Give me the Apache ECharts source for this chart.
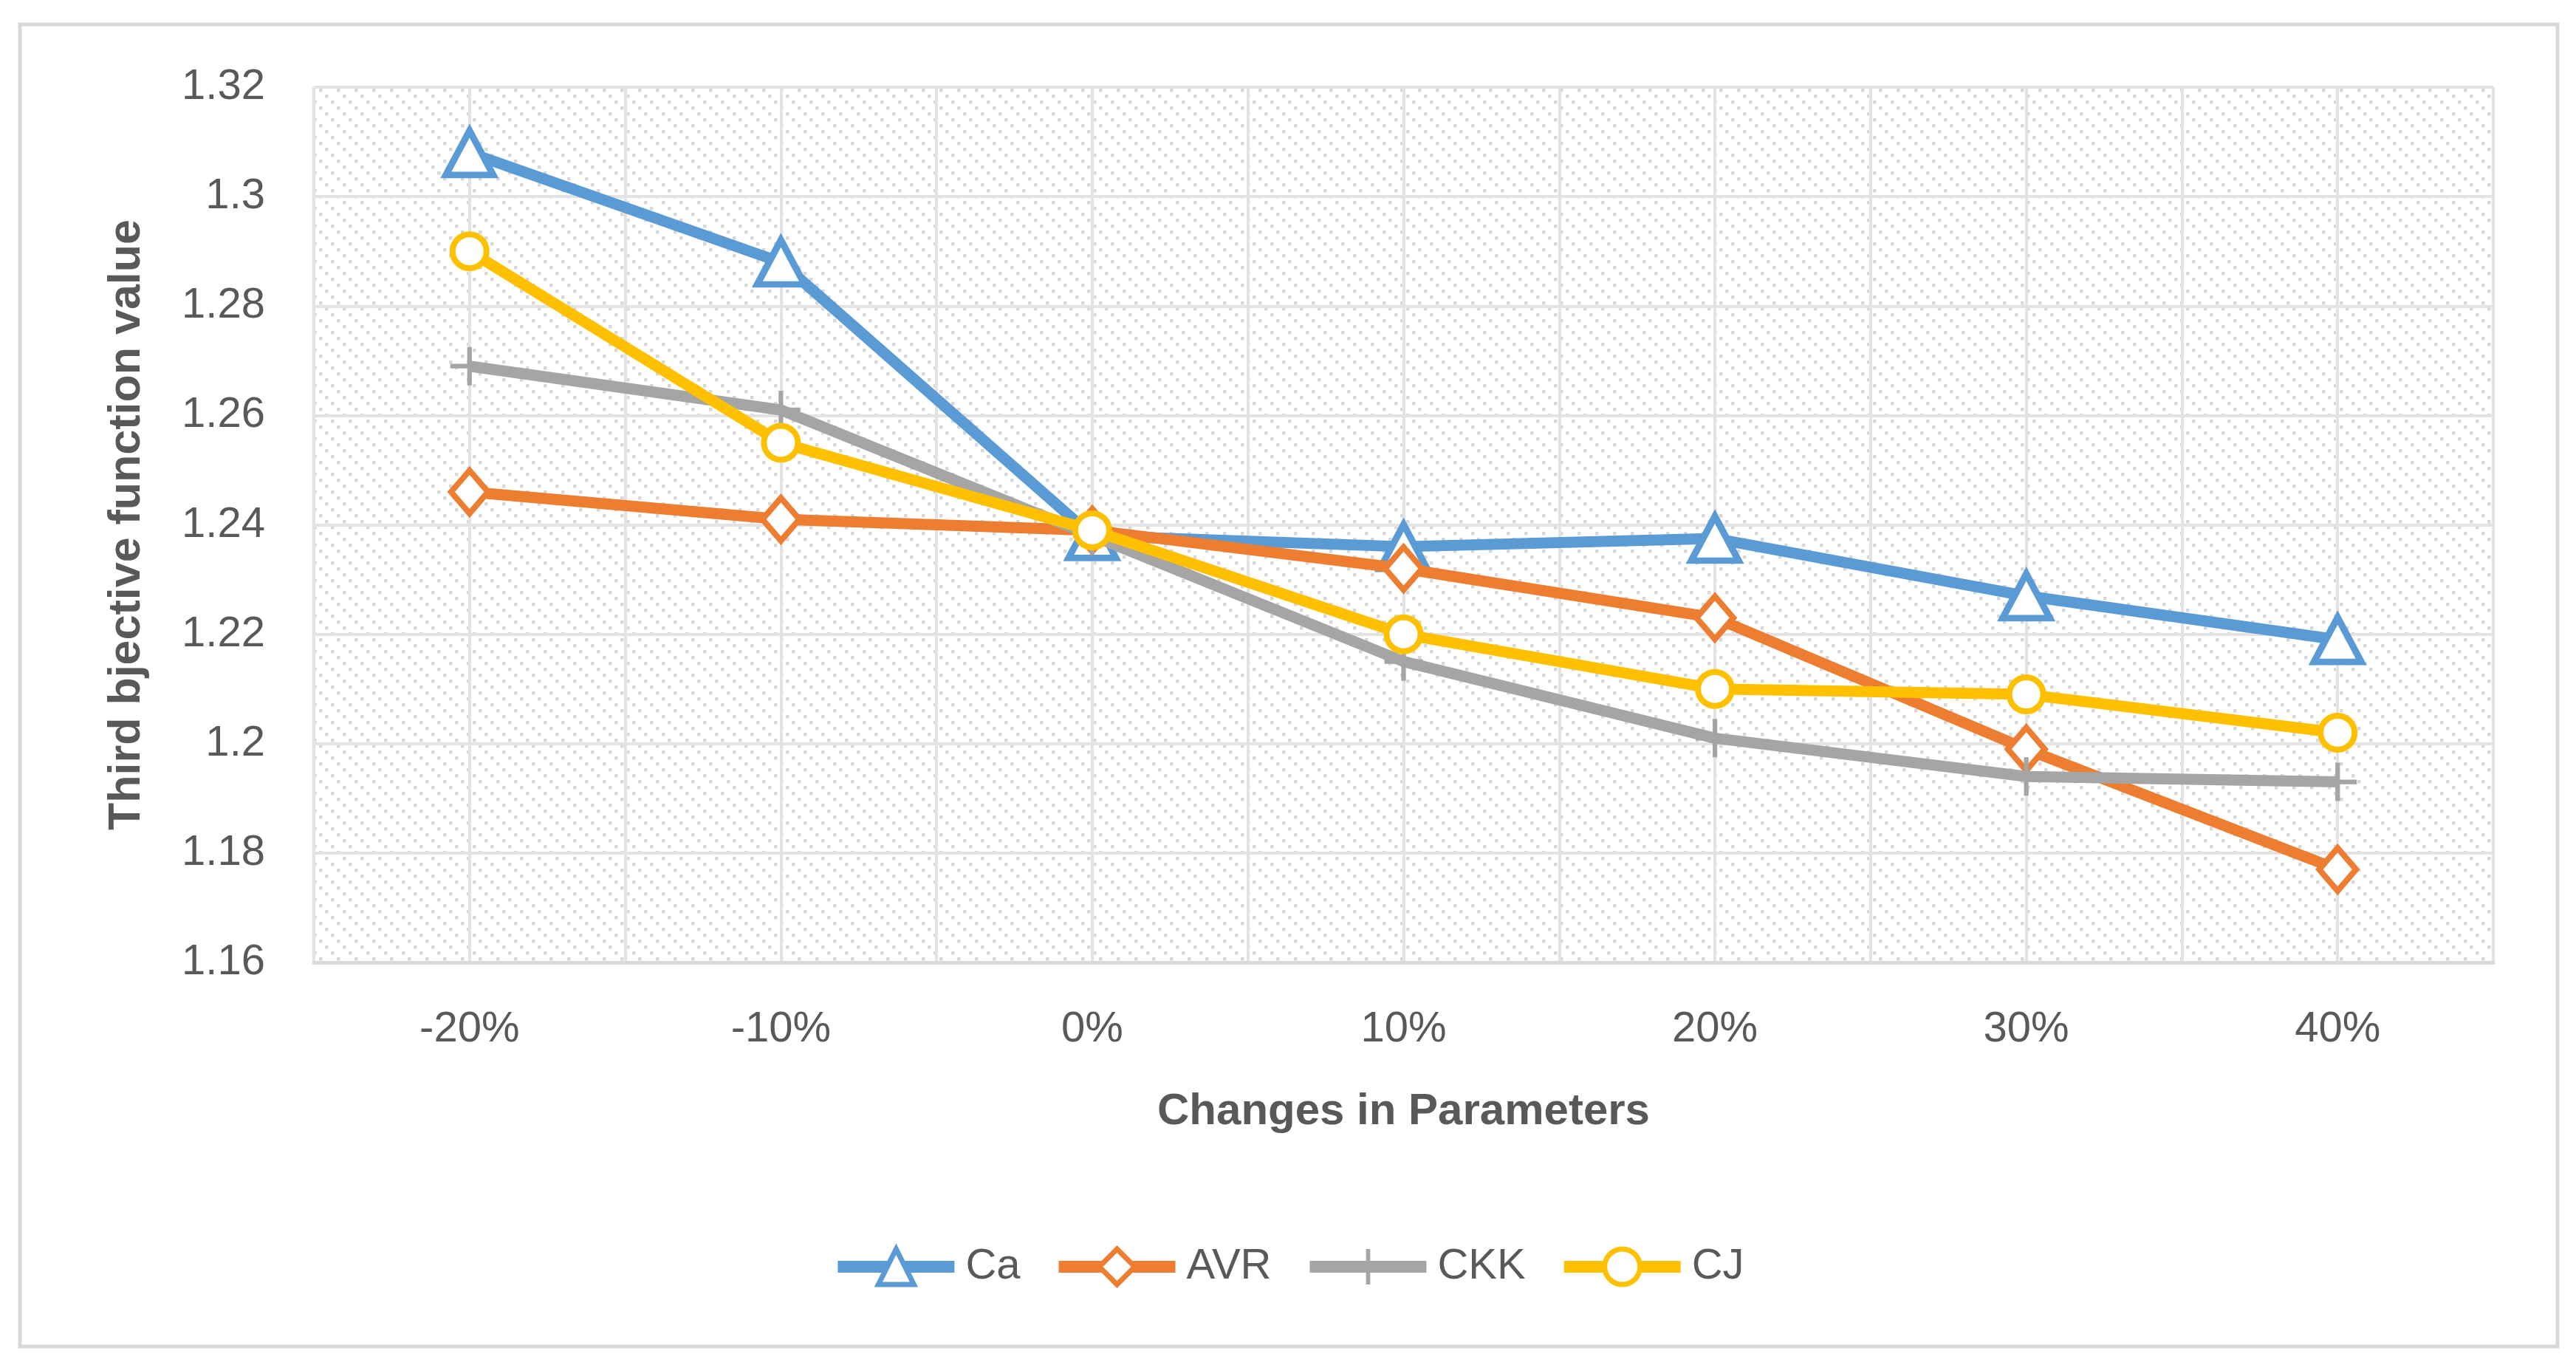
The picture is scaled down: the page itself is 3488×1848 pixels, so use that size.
<!DOCTYPE html>
<html>
<head>
<meta charset="utf-8">
<script src="https://cdn.jsdelivr.net/npm/echarts@6/dist/echarts.min.js"></script>
<style>
html,body{margin:0;padding:0;background:#fff;}
#main{width:3488px;height:1848px;}
</style>
</head>
<body>
<div id="main"></div>
<script>
const categories = ['-20%', '-10%', '0%', '10%', '20%', '30%', '40%'];
const seriesNames = ['Ca', 'AVR', 'CKK', 'CJ'];
const caValues  = [1.308, 1.288, 1.238, 1.236, 1.2375, 1.227, 1.219];
const avrValues = [1.246, 1.241, 1.239, 1.232, 1.223, 1.199, 1.177];
const ckkValues = [1.269, 1.261, 1.238, 1.215, 1.201, 1.194, 1.193];
const cjValues  = [1.290, 1.255, 1.239, 1.220, 1.210, 1.209, 1.202];
const yMin = 1.16, yMax = 1.32, yStep = 0.02;

// hatch pattern for plot area
const tile = document.createElement('canvas');
tile.width = 24; tile.height = 24;
const tctx = tile.getContext('2d');
tctx.fillStyle = '#ffffff';
tctx.fillRect(0, 0, 24, 24);
tctx.fillStyle = '#d8d8d8';
for (let i = 0; i < 3; i++) {
  tctx.fillRect(i * 8, i * 8, 4.5, 4.5);
}

const FONT = '"Liberation Sans", Arial, sans-serif';
const TXT = '#595959';
const plus = 'path://M8.8,0 h2.4 v8.8 h8.8 v2.4 h-8.8 v8.8 h-2.4 v-8.8 h-8.8 v-2.4 h8.8 z';
const colors = { Ca: '#5B9BD5', AVR: '#ED7D31', CKK: '#A5A5A5', CJ: '#FFC000' };
const LW = 15;

const chart = echarts.init(document.getElementById('main'));
chart.setOption({
  backgroundColor: '#ffffff',
  animation: false,
  graphic: [{
    type: 'rect',
    shape: { x: 27, y: 33, width: 3436, height: 1790 },
    style: { fill: 'none', stroke: '#d9d9d9', lineWidth: 5 },
    silent: true
  }],
  grid: {
    left: 425, right: 112, top: 118, bottom: 545,
    show: true,
    backgroundColor: { image: tile, repeat: 'repeat' },
    borderWidth: 0
  },
  legend: {
    data: [
      { name: 'Ca', lineStyle: { width: 16, color: colors.Ca }, itemStyle: { color: '#fff', borderColor: colors.Ca, borderWidth: 7 } },
      { name: 'AVR', lineStyle: { width: 16, color: colors.AVR }, itemStyle: { color: '#fff', borderColor: colors.AVR, borderWidth: 7 } },
      { name: 'CKK', lineStyle: { width: 16, color: colors.CKK }, itemStyle: { color: colors.CKK, borderWidth: 0 } },
      { name: 'CJ', lineStyle: { width: 16, color: colors.CJ }, itemStyle: { color: '#fff', borderColor: colors.CJ, borderWidth: 7 } }
    ],
    left: 'center',
    top: 1681,
    itemWidth: 158,
    itemHeight: 60,
    itemGap: 44,
    textStyle: { fontFamily: FONT, fontSize: 58, color: TXT, padding: [0, 0, 0, 10] }
  },
  xAxis: [{
    type: 'category',
    data: categories,
    boundaryGap: true,
    axisLine: { show: true, lineStyle: { color: '#d9d9d9', width: 5 } },
    axisTick: { show: false },
    splitLine: { show: false },
    axisLabel: { fontFamily: FONT, fontSize: 58, color: TXT, margin: 62 },
    name: 'Changes in Parameters',
    nameLocation: 'middle',
    nameGap: 172,
    nameTextStyle: { fontFamily: FONT, fontSize: 60, fontWeight: 'bold', color: TXT }
  }, {
    type: 'value',
    min: 0, max: 14, interval: 1,
    position: 'bottom',
    axisLine: { show: false },
    axisTick: { show: false },
    axisLabel: { show: false },
    splitLine: { show: true, lineStyle: { color: '#e3e3e3', width: 4 } }
  }],
  yAxis: {
    type: 'value',
    min: yMin, max: yMax, interval: yStep,
    axisLine: { show: false },
    axisTick: { show: false },
    axisLabel: { fontFamily: FONT, fontSize: 58, color: TXT, margin: 66 },
    splitLine: { show: true, lineStyle: { color: '#e3e3e3', width: 4 } },
    name: 'Third bjective function value',
    nameLocation: 'middle',
    nameGap: 222,
    nameRotate: 90,
    nameTextStyle: { fontFamily: FONT, fontSize: 61, fontWeight: 'bold', color: TXT }
  },
  series: [{
    name: 'Ca', type: 'line', data: caValues, xAxisIndex: 0,
    symbol: 'triangle', symbolSize: [64, 60],
    lineStyle: { color: colors.Ca, width: LW },
    itemStyle: { color: '#ffffff', borderColor: colors.Ca, borderWidth: 9 },
    z: 3
  }, {
    name: 'AVR', type: 'line', data: avrValues, xAxisIndex: 0,
    symbol: 'diamond', symbolSize: [50, 58],
    lineStyle: { color: colors.AVR, width: LW },
    itemStyle: { color: '#ffffff', borderColor: colors.AVR, borderWidth: 8 },
    z: 4
  }, {
    name: 'CKK', type: 'line', data: ckkValues, xAxisIndex: 0,
    symbol: plus, symbolSize: 52,
    lineStyle: { color: colors.CKK, width: LW },
    itemStyle: { color: colors.CKK, borderWidth: 0 },
    z: 5
  }, {
    name: 'CJ', type: 'line', data: cjValues, xAxisIndex: 0,
    symbol: 'circle', symbolSize: 46,
    lineStyle: { color: colors.CJ, width: LW },
    itemStyle: { color: '#ffffff', borderColor: colors.CJ, borderWidth: 8 },
    z: 6
  }]
});
</script>
</body>
</html>
